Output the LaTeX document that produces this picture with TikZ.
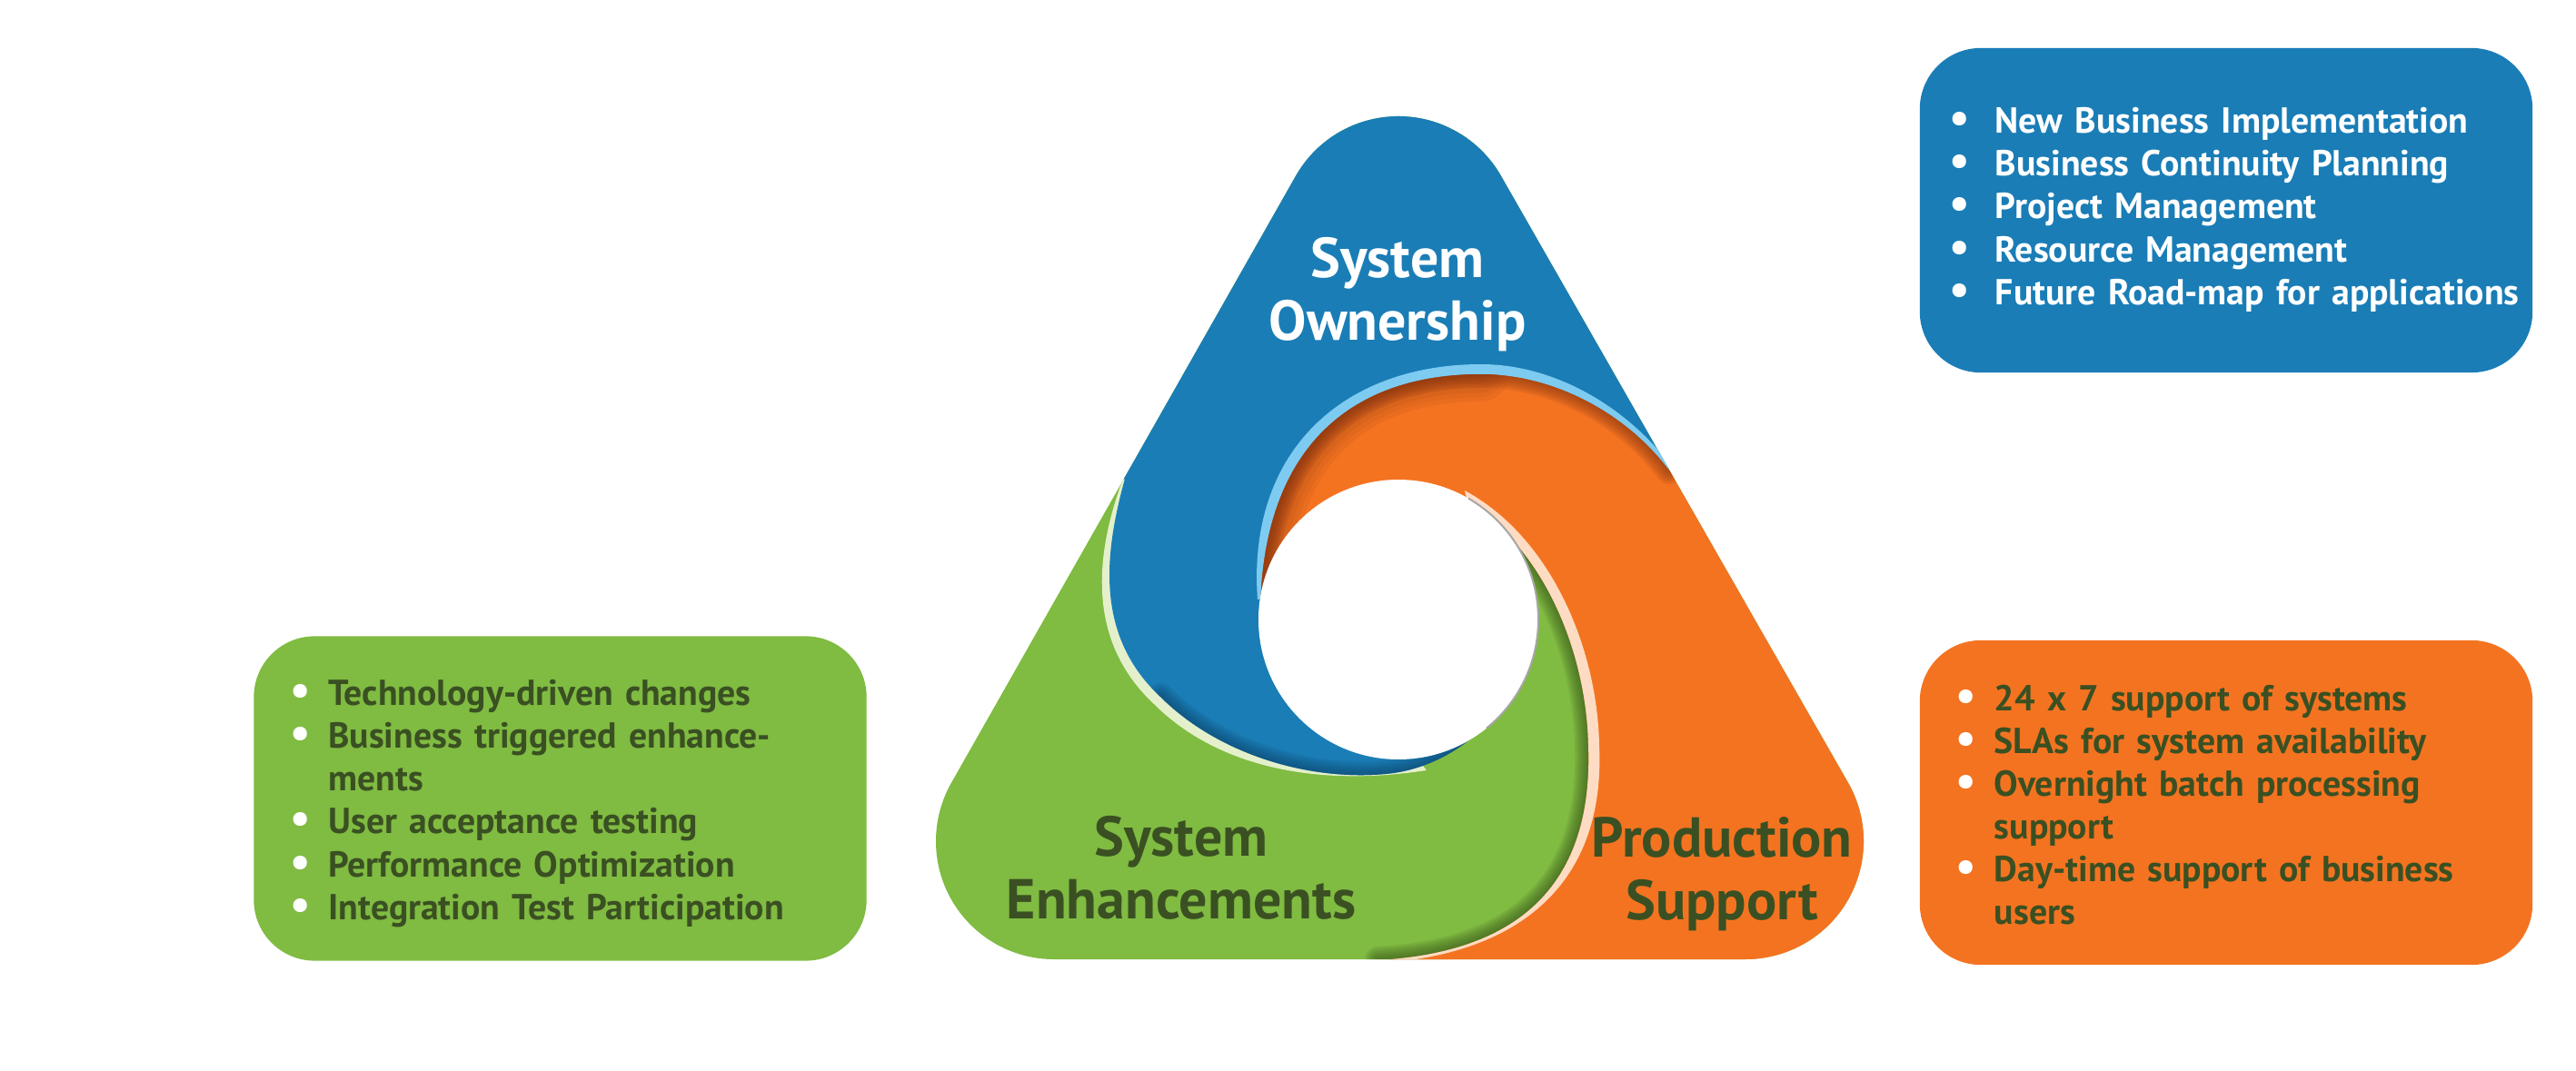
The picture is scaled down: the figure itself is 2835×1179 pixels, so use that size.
\documentclass[tikz,border=0pt]{standalone}
\usepackage{fontspec}
\setmainfont{PT Sans}

\definecolor{sysblue}{HTML}{1A7DB6}
\definecolor{sysorange}{HTML}{F47321}
\definecolor{sysgreen}{HTML}{80BB42}
\definecolor{rimblue}{HTML}{7ECBF1}
\definecolor{rimgreen}{HTML}{E4F0CB}
\definecolor{rimpeach}{HTML}{FDDCC3}
\definecolor{textgreen}{HTML}{3A5022}
\definecolor{darkgreen}{HTML}{2F4A14}
\definecolor{darkblue}{HTML}{0B3F63}
\definecolor{darkorange}{HTML}{7A2E10}

\newcommand{\curveBG}{.. controls (1215,610) and (1205,700) .. (1277,767) .. controls (1340,830) and (1440,860) .. (1525,852) .. controls (1570,848) and (1610,825) .. (1636,797)}
\newcommand{\curveOB}{.. controls (1387,500) and (1480,412) .. (1630,412) .. controls (1710,412) and (1790,455) .. (1837,518)}
\newcommand{\curveGO}{.. controls (1640,1050) and (1755,1000) .. (1748,820) .. controls (1746,720) and (1700,600) .. (1608,548)}
\newcommand{\trianglezone}{([shift = {(-150:130)}]1539,258) arc[start angle = -150, end angle = -30, radius = 130]
    -- ([shift = {(-30:130)}]1921,926) arc[start angle = -30, end angle = 90, radius = 130]
    -- ([shift = {(90:130)}]1160,926) arc[start angle = 90, end angle = 210, radius = 130] -- cycle}
\newcommand{\bluezone}{(1100,527) -- (1238,527) \curveBG -- (1539,682) -- (1387,680) \curveOB -- (1950,518) -- (1950,-60) -- (1100,-60) -- cycle}
\newcommand{\orangezone}{(1517,1120) -- (1517,1057) \curveGO -- (1539,682) -- (1387,680) \curveOB -- (1950,518) -- (2250,1120) -- cycle}
\newcommand{\blt}{\textcolor{white}{\scalebox{1.25}{\textbullet}}}
\newcommand{\itemlist}[4]{\raisebox{-#1}[\height][\depth]{\begin{tabular}{@{\hspace{#2}}p{#3}@{}l@{}}#4\end{tabular}}}

\tikzset{
    infobox/.style = {rounded corners = 0.67cm, minimum height = 3.57cm, inner xsep = 0.3cm, text width = 6.14cm, align = left, font = \bfseries\fontsize{11.3}{13.4}\selectfont},
    tlabel/.style = {align = center, inner sep = 0pt, font = \bfseries\fontsize{17.6}{19.6}\selectfont},
    shadeline/.style = {draw opacity = 0.12, line cap = round}
}

\begin{document}
\begin{tikzpicture}[x = 0.01cm, y = -0.01cm]
    \useasboundingbox (0,0) rectangle (2835,1179);
    \begin{scope}
        \clip \trianglezone;
        \fill[sysgreen] (900,-60) rectangle (2200,1120);
        \fill[rimgreen]
        (1236,527) .. controls (1205,610) and (1195,705) .. (1270,775) .. controls (1335,840) and (1440,868) .. (1570,848) -- (1450,700) -- cycle;
        \foreach \w in {0.05,0.1,0.15,0.2,0.25,0.3}
            \draw[shadeline, darkgreen, line width = \w cm] (1517,1057) \curveGO;
        \fill[sysblue] \bluezone;
        \begin{scope}
            \clip \bluezone;
            \foreach \w in {0.05,0.1,0.15,0.2,0.25,0.3}
                \draw[shadeline, darkblue, line width = \w cm]
                (1277,767) .. controls (1340,830) and (1440,860) .. (1525,852) .. controls (1570,848) and (1610,825) .. (1636,797);
            \fill[rimblue]
            (1384,660) .. controls (1372,495) and (1480,401) .. (1630,401) .. controls (1710,401) and (1790,447) .. (1840,514) -- (1650,600) -- cycle;
        \end{scope}
        \fill[sysorange] \orangezone;
        \begin{scope}
            \clip \orangezone;
            \foreach \w in {0.05,0.1,0.15,0.2,0.25,0.3}
                \draw[shadeline, darkorange, line width = \w cm] (1387,680) \curveOB;
            \foreach \w in {0.1,0.2,0.3,0.4,0.5,0.6}
                \draw[shadeline, darkorange, draw opacity = 0.08, line width = \w cm]
                (1387,690) .. controls (1387,500) and (1480,412) .. (1630,412);
            \fill[rimpeach]
            (1520,1060) .. controls (1650,1052) and (1768,990) .. (1760,820) .. controls (1758,715) and (1708,592) .. (1612,540) -- (1650,700) -- (1600,900) -- cycle;
        \end{scope}
        \fill[white] (1539,682) circle[radius = 154];
        \draw[gray!70, line width = 0.02cm]
        ([shift = {(-60:154)}]1539,682) arc[start angle = -60, end angle = 51, radius = 154];
    \end{scope}

    \node[tlabel, text = white] (ownlabel) at (1538,324) {System\\Ownership};
    \node[tlabel, text = textgreen] (enhlabel) at (1300,955) {System\\Enhancements};
    \node[tlabel, text = textgreen] (prodlabel) at (1895,962) {Production\\Support};

    \node[infobox, fill = sysblue, text = white] (ownbox) at (2450,231.5) {\itemlist{0cm}{0.03cm}{0.5cm}{
        \blt & New Business Implementation\\
        \blt & Business Continuity Planning\\
        \blt & Project Management\\
        \blt & Resource Management\\
        \blt & Future Road-map for applications}};
    \node[infobox, fill = sysgreen, text = textgreen] (enhbox) at (616.5,879) {\itemlist{0.06cm}{0.1cm}{0.42cm}{
        \blt & Technology-driven changes\\
        \blt & Business triggered enhance-\\
        & ments\\
        \blt & User acceptance testing\\
        \blt & Performance Optimization\\
        \blt & Integration Test Participation}};
    \node[infobox, fill = sysorange, text = textgreen] (prodbox) at (2450,883.5) {\itemlist{0.07cm}{0.1cm}{0.42cm}{
        \blt & 24 x 7 support of systems\\
        \blt & SLAs for system availability\\
        \blt & Overnight batch processing\\
        & support\\
        \blt & Day-time support of business\\
        & users}};
\end{tikzpicture}
\end{document}
